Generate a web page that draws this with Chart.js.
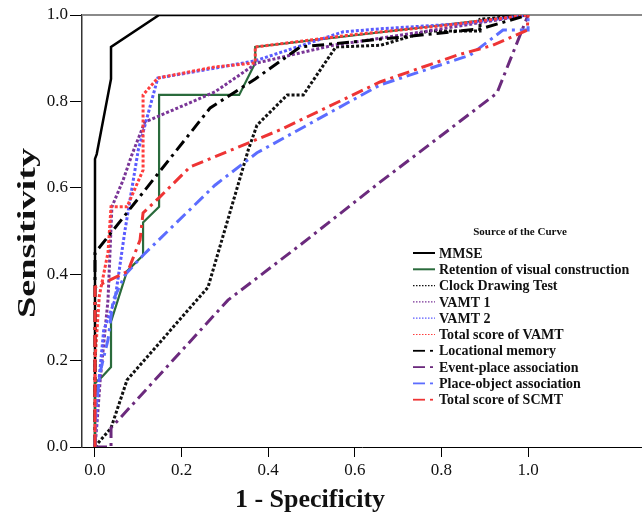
<!DOCTYPE html>
<html>
<head>
<meta charset="utf-8">
<script src="https://cdn.jsdelivr.net/npm/chart.js@4.4.0/dist/chart.umd.min.js"></script>
<style>
  html, body { margin: 0; padding: 0; background: #fff; }
  #wrap { position: relative; width: 642px; height: 519px; }
</style>
</head>
<body>
<div id="wrap"><canvas id="roc"></canvas></div>
<script>
'use strict';

// tick labels
const xTicks = [0, 0.2, 0.4, 0.6, 0.8, 1.0];
const yTicks = [0, 0.2, 0.4, 0.6, 0.8, 1.0];

const curveLabels = [
    'MMSE', 'Retention of visual construction', 'Clock Drawing Test', 'VAMT 1', 'VAMT 2',
    'Total score of VAMT', 'Locational memory', 'Event-place association',
    'Place-object association', 'Total score of SCMT'
];

// [1 - specificity, sensitivity]
const mmse = [[0,0],[0,0.667],[0.004,0.678],[0.037,0.852],[0.037,0.926],[0.148,1],[1,1]];
const retention = [[0,0],[0,0.148],[0.016,0.162],[0.037,0.185],[0.037,0.29],[0.074,0.407],[0.111,0.444],
    [0.111,0.52],[0.148,0.556],[0.148,0.815],[0.333,0.815],[0.37,0.889],[0.37,0.926],[0.66,0.96],[1,1]];
const clockDrawing = [[0,0],[0.007,0.009],[0.037,0.044],[0.074,0.155],[0.261,0.37],[0.354,0.688],[0.374,0.745],
    [0.444,0.815],[0.481,0.815],[0.556,0.926],[0.66,0.93],[0.77,0.963],[0.889,0.963],[0.889,0.99],[1,1]];
const vamt1 = [[0,0],[0.005,0.06],[0.012,0.155],[0.03,0.34],[0.039,0.556],[0.065,0.618],[0.085,0.676],
    [0.115,0.752],[0.277,0.822],[0.374,0.889],[0.55,0.93],[0.75,0.96],[1,1]];
const vamt2 = [[0,0],[0.005,0.11],[0.02,0.27],[0.046,0.34],[0.069,0.5],[0.1,0.688],[0.145,0.854],
    [0.277,0.877],[0.37,0.894],[0.573,0.961],[0.658,0.968],[0.85,0.98],[1,1]];
const totalVamt = [[0,0],[0,0.2],[0.01,0.35],[0.03,0.45],[0.037,0.556],[0.074,0.556],[0.111,0.641],
    [0.111,0.815],[0.145,0.854],[0.277,0.88],[0.37,0.889],[0.37,0.926],[0.6,0.955],[0.8,0.975],[1,1]];
const locational = [[0,0],[0,0.449],[0.266,0.785],[0.37,0.852],[0.474,0.926],[0.7,0.948],[0.89,0.968],[1,1]];
const eventPlace = [[0,0],[0.037,0],[0.037,0.044],[0.307,0.34],[0.473,0.467],[0.658,0.613],[0.928,0.819],[1,1]];
const placeObject = [[0,0],[0.002,0.086],[0.012,0.174],[0.03,0.248],[0.042,0.34],[0.069,0.398],[0.111,0.444],
    [0.277,0.606],[0.374,0.681],[0.658,0.838],[0.866,0.907],[0.942,0.965],[1,0.965],[1,1]];
const totalScmt = [[0,0],[0,0.37],[0.076,0.407],[0.104,0.479],[0.111,0.542],[0.15,0.579],[0.219,0.648],
    [0.427,0.734],[0.658,0.845],[0.836,0.907],[0.919,0.93],[0.998,0.965],[1,1]];

const curves = [mmse, retention, clockDrawing, vamt1, vamt2, totalVamt, locational, eventPlace, placeObject, totalScmt];

const DOT = [3, 2];
const DASH_DOT = [12, 5, 3, 5];
const STYLES = [
    { color: '#000000',  width: 2.5, dash: [],       kind: 'solid' },
    { color: '#2a6b3c',  width: 2.2, dash: [],       kind: 'solid' },
    { color: '#111111',  width: 3,   dash: DOT,      kind: 'dot' },
    { color: '#7a3597',  width: 3,   dash: DOT,      kind: 'dot' },
    { color: '#5b5bff',  width: 3,   dash: DOT,      kind: 'dot' },
    { color: '#ff3d3d',  width: 3,   dash: DOT,      kind: 'dot' },
    { color: '#000000',  width: 3,   dash: DASH_DOT, kind: 'dashdot' },
    { color: '#6b2a7d',  width: 3,   dash: DASH_DOT, kind: 'dashdot' },
    { color: '#5c6dff',  width: 3,   dash: DASH_DOT, kind: 'dashdot' },
    { color: '#ee3434',  width: 3,   dash: DASH_DOT, kind: 'dashdot' },
];

const SERIF = '"Liberation Serif", "Times New Roman", serif';

const decor = {
    id: 'decor',
    beforeDatasetsDraw(chart) {
        const { ctx, chartArea: a } = chart;
        ctx.save();
        ctx.strokeStyle = '#8a8a8a';
        ctx.lineWidth = 2;
        ctx.beginPath();
        ctx.moveTo(a.left, a.top);
        ctx.lineTo(a.right, a.top);
        ctx.stroke();
        ctx.restore();
    },
    afterDraw(chart) {
        const { ctx } = chart;
        ctx.save();
        ctx.fillStyle = '#111';
        ctx.textAlign = 'center';
        ctx.textBaseline = 'middle';

        // y title, stretched along its length like the reference
        ctx.font = 'bold 26px ' + SERIF;
        const yt = 'Sensitivity';
        const w = ctx.measureText(yt).width;
        ctx.save();
        ctx.translate(28, 233);
        ctx.rotate(-Math.PI / 2);
        ctx.scale(170 / w, 1);
        ctx.fillText(yt, 0, 0);
        ctx.restore();

        // x title
        ctx.fillText('1 - Specificity', 310, 500);

        // legend
        ctx.font = 'bold 11px ' + SERIF;
        ctx.fillText('Source of the Curve', 520, 232);
        ctx.textAlign = 'left';
        ctx.font = 'bold 14px ' + SERIF;
        curveLabels.forEach((label, i) => {
            const y = 253 + i * 16.3;
            const s = STYLES[i];
            ctx.strokeStyle = s.color;
            ctx.lineCap = 'butt';
            if (s.kind === 'solid') {
                ctx.lineWidth = 2;
                ctx.setLineDash([]);
                ctx.beginPath(); ctx.moveTo(413, y); ctx.lineTo(435, y); ctx.stroke();
            } else if (s.kind === 'dot') {
                ctx.lineWidth = 1.2;
                ctx.setLineDash([1.5, 1.5]);
                ctx.beginPath(); ctx.moveTo(413, y); ctx.lineTo(435, y); ctx.stroke();
            } else {
                ctx.lineWidth = 1.8;
                ctx.setLineDash([]);
                ctx.beginPath(); ctx.moveTo(413, y); ctx.lineTo(425, y); ctx.stroke();
                ctx.beginPath(); ctx.moveTo(430, y); ctx.lineTo(433, y); ctx.stroke();
            }
            ctx.fillText(label, 439, y + 1);
        });
        ctx.restore();
    }
};

new Chart(document.getElementById('roc'), {
    type: 'scatter',
    data: {
        datasets: curves.map((pts, i) => ({
            label: curveLabels[i],
            data: pts.map(p => ({ x: p[0], y: p[1] })),
            showLine: true,
            borderColor: STYLES[i].color,
            borderWidth: STYLES[i].width,
            borderDash: STYLES[i].dash,
            borderCapStyle: 'butt',
            pointRadius: 0,
            tension: 0,
            fill: false,
            order: curves.length - i,
        }))
    },
    options: {
        responsive: true,
        maintainAspectRatio: false,
        animation: false,
        layout: { padding: { top: 15, right: 0, left: 0, bottom: 0 } },
        plugins: { legend: { display: false }, tooltip: { enabled: false } },
        scales: {
            x: {
                type: 'linear',
                min: -0.03,
                max: 1.263,
                afterBuildTicks: s => { s.ticks = xTicks.map(v => ({ value: v })); },
                afterFit: s => { s.height = 72; },
                ticks: {
                    color: '#111', padding: 3, maxRotation: 0,
                    font: { family: SERIF, size: 17 },
                    callback: v => v.toFixed(1)
                },
                grid: { drawOnChartArea: false, drawTicks: true, tickLength: 10, color: '#000', lineWidth: 1 },
                border: { display: true, color: '#000', width: 1 }
            },
            y: {
                type: 'linear',
                min: 0,
                max: 1,
                afterBuildTicks: s => { s.ticks = yTicks.map(v => ({ value: v })); },
                afterFit: s => { s.width = 82; },
                ticks: {
                    color: '#111', padding: 2,
                    font: { family: SERIF, size: 17 },
                    callback: v => v.toFixed(1)
                },
                grid: { drawOnChartArea: false, drawTicks: true, tickLength: 12, color: '#000', lineWidth: 1 },
                border: { display: true, color: '#333', width: 1.5 }
            }
        }
    },
    plugins: [decor]
});
</script>
</body>
</html>
